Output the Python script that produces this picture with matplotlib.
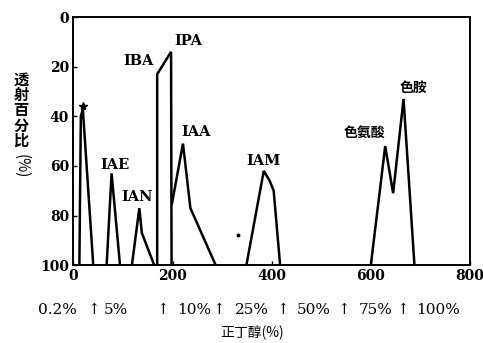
import matplotlib
matplotlib.use("Agg")
import matplotlib.pyplot as plt
from matplotlib.transforms import blended_transform_factory

# ---- data (x: elution volume, y: transmission %) ----
star_x = [12, 15, 19, 40]
star_y = [100, 40, 37, 100]
iae_x = [67, 77, 94]
iae_y = [100, 63, 100]
ian_x = [118, 133, 138, 163]
ian_y = [100, 77, 87, 100]
ipa_x = [169, 169, 197, 198]
ipa_y = [100, 23, 14, 100]
iaa_x = [199, 221, 236, 287]
iaa_y = [75, 51, 77, 100]
iam_x = [349, 384, 396, 404, 417]
iam_y = [100, 62, 66, 70, 100]
trp_x = [600, 629, 645, 666, 688]
trp_y = [100, 52, 71, 33, 100]
dot_x = [333]
dot_y = [88]

peak_names = ["IBA", "IPA", "IAA", "IAE", "IAN", "IAM", "色氨酸", "色胺"]
peak_lx = [131, 232, 248, 84, 129, 384, 587, 686]
peak_ly = [17.7, 9.7, 46.4, 59.7, 72.6, 58, 46.8, 28.6]

xticks = [0, 200, 400, 600, 800]
yticks = [0, 20, 40, 60, 80, 100]

step_labels = ["0.2%", "↑", "5%", "↑", "10%", "↑", "25%", "↑", "50%", "↑", "75%", "↑", "100%"]
step_x = [-33, 42, 85, 181, 244, 293, 360, 423, 484, 546, 609, 666, 735]

serif = ["DejaVu Serif", "Noto Sans CJK SC"]
cjk = ["Noto Sans CJK SC", "DejaVu Sans"]

fig = plt.figure(figsize=(4.83, 3.43), dpi=100)
ax = fig.add_axes([0.152, 0.227, 0.821, 0.723])

lw = 1.8
for xs, ys in [(star_x, star_y), (iae_x, iae_y), (ian_x, ian_y), (ipa_x, ipa_y),
               (iaa_x, iaa_y), (iam_x, iam_y), (trp_x, trp_y)]:
    ax.plot(xs, ys, color="black", lw=lw, solid_joinstyle="miter")
ax.plot(dot_x, dot_y, "o", color="black", ms=1.8)
ax.plot([star_x[2]], [star_y[2] - 1], marker="*", color="black", ms=6)

ax.set_xlim(0, 800)
ax.set_ylim(100, 0)
ax.set_xticks(xticks)
ax.set_yticks(yticks)
ax.set_xticklabels([str(v) for v in xticks], family=serif, fontsize=10, fontweight="bold")
ax.set_yticklabels([str(v) for v in yticks], family=serif, fontsize=10, fontweight="bold")
ax.tick_params(direction="in", length=3, width=1, pad=3)
for s in ax.spines.values():
    s.set_linewidth(1.4)

for name, lx, ly in zip(peak_names, peak_lx, peak_ly):
    if name.isascii():
        ax.text(lx, ly, name, ha="center", va="center", family=serif,
                fontsize=10.5, fontweight="bold")
    else:
        ax.text(lx, ly, name, ha="center", va="center", family=cjk,
                fontsize=10, fontweight="bold")

tr = blended_transform_factory(ax.transData, ax.transAxes)
for lab, x in zip(step_labels, step_x):
    ax.text(x, -0.181, lab, transform=tr, ha="center", va="center",
            family=["DejaVu Serif", "DejaVu Sans"], fontsize=11, clip_on=False)
ax.text(360, -0.274, "正丁醇(%)", transform=tr, ha="center", va="center",
        family=cjk, fontsize=10, clip_on=False)

fig.text(21 / 483, 1 - 110 / 343, "透\n射\n百\n分\n比", ha="center", va="center",
         family=cjk, fontsize=11, fontweight="bold", linespacing=0.95)
fig.text(21 / 483, 1 - 166 / 343, "(%)", ha="center", va="center",
         family=cjk, fontsize=11, rotation=-90)

fig.savefig("out.png", dpi=100)
